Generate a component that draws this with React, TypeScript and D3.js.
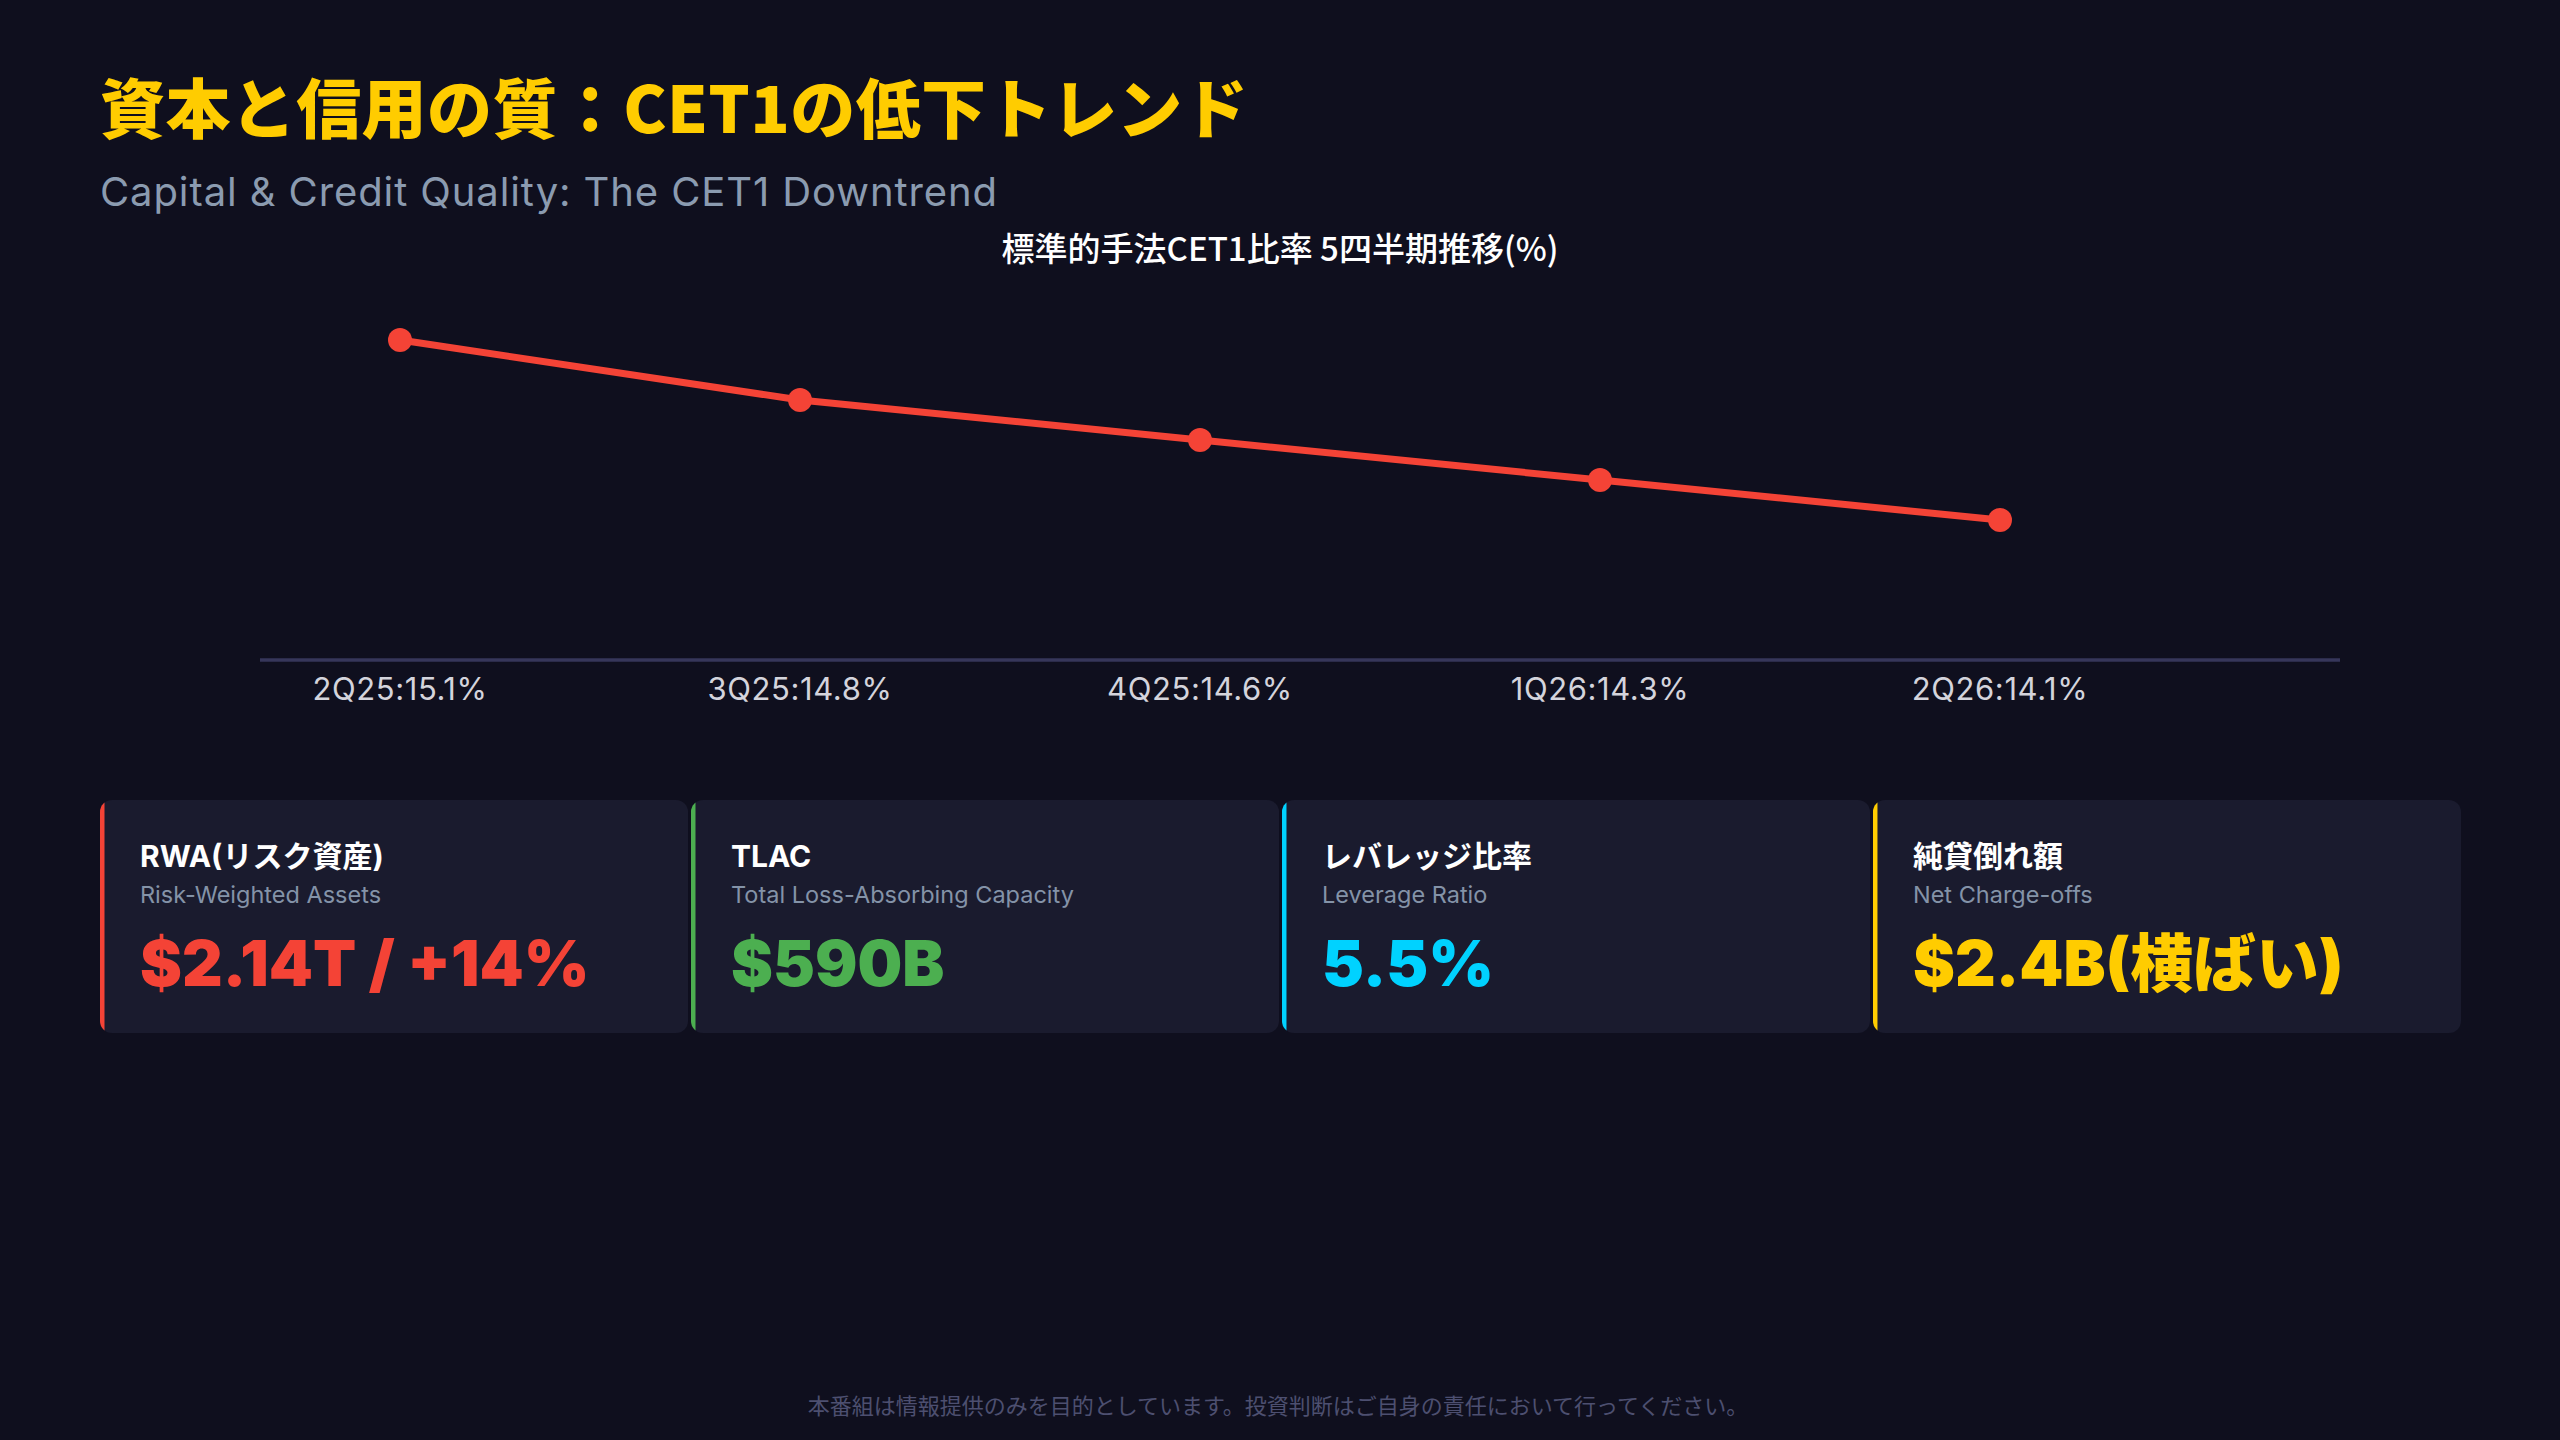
import React from "react";
import * as d3 from "d3";

const quarters = ["2Q25", "3Q25", "4Q25", "1Q26", "2Q26"];
const tickLabels = ["2Q25:15.1%", "3Q25:14.8%", "4Q25:14.6%", "1Q26:14.3%", "2Q26:14.1%"];
const cet1Values = [15.1, 14.8, 14.6, 14.4, 14.2];

const cardTitles = ["RWA(リスク資産)", "TLAC", "レバレッジ比率", "純貸倒れ額"];
const cardSubtitles = ["Risk-Weighted Assets", "Total Loss-Absorbing Capacity", "Leverage Ratio", "Net Charge-offs"];
const cardValues = ["$2.14T / +14%", "$590B", "5.5%", "$2.4B(横ばい)"];
const cardColors = ["#f44336", "#4caf50", "#00d2ff", "#ffcc00"];

const W = 2560;
const H = 1440;
const BG = "#0f0f1e";
const CARD_BG = "#1a1b2e";
const LATIN = "Inter, 'Noto Sans CJK JP', sans-serif";
const CJK = "'Noto Sans CJK JP', Inter, sans-serif";

export default function App() {
  const x = d3.scalePoint<string>().domain(quarters).range([200, 2200]).padding(0.5);
  const y = d3.scaleLinear().domain([13.5, 15.5]).range([660, 260]);
  const line = d3
    .line<number>()
    .x((_, i) => x(quarters[i]) as number)
    .y((d) => y(d));

  const cardX = d3.scaleBand<number>().domain([0, 1, 2, 3]).range([100, 2461]).paddingInner(0.005);
  const cardTop = 800;
  const cardH = 233;

  return (
    <svg
      width={W}
      height={H}
      viewBox={`0 0 ${W} ${H}`}
      style={{ position: "fixed", left: 0, top: 0, display: "block" }}
    >
      <rect x={0} y={0} width={W} height={H} fill={BG} />
      <text x={100} y={133} fill="#ffcc00" fontSize={65} fontWeight={900} fontFamily={CJK} letterSpacing={0.4}>
        資本と信用の質：CET1の低下トレンド
      </text>
      <text x={100} y={206} fill="#8b9bb0" fontSize={40} fontWeight={400} fontFamily={LATIN} letterSpacing={0.9}>
        Capital &amp; Credit Quality: The CET1 Downtrend
      </text>
      <text x={1280} y={261} fill="#ffffff" fontSize={33} fontWeight={500} fontFamily={CJK} textAnchor="middle">
        標準的手法CET1比率 5四半期推移(%)
      </text>

      <line x1={260} x2={2340} y1={660} y2={660} stroke="#36365a" strokeWidth={3.5} />
      {tickLabels.map((t, i) => (
        <text
          key={t}
          x={x(quarters[i])}
          y={700}
          fill="#d4d4dc"
          fontSize={31}
          fontFamily={LATIN}
          letterSpacing={0.6}
          textAnchor="middle"
        >
          {t}
        </text>
      ))}
      <path d={line(cet1Values) || ""} fill="none" stroke="#f44336" strokeWidth={7} strokeLinejoin="round" />
      {cet1Values.map((v, i) => (
        <circle key={i} cx={x(quarters[i])} cy={y(v)} r={12} fill="#f44336" />
      ))}

      <defs>
        {cardTitles.map((_, i) => (
          <clipPath id={`card-clip-${i}`} key={i}>
            <rect x={cardX(i)} y={cardTop} width={cardX.bandwidth()} height={cardH} rx={12} ry={12} />
          </clipPath>
        ))}
      </defs>
      {cardTitles.map((title, i) => {
        const cx = cardX(i) as number;
        return (
          <g key={title}>
            <rect x={cx} y={cardTop} width={cardX.bandwidth()} height={cardH} rx={12} ry={12} fill={CARD_BG} />
            <rect x={cx} y={cardTop} width={4.5} height={cardH} fill={cardColors[i]} clipPath={`url(#card-clip-${i})`} />
            <text x={cx + 40} y={867} fill="#ffffff" fontSize={30} fontWeight={700} fontFamily={LATIN}>
              {title}
            </text>
            <text x={cx + 40} y={903} fill="#8493a8" fontSize={23.5} fontWeight={400} fontFamily={LATIN}>
              {cardSubtitles[i]}
            </text>
            <text x={cx + 40} y={986} fill={cardColors[i]} fontSize={63} fontWeight={900} fontFamily={LATIN}>
              {cardValues[i]}
            </text>
          </g>
        );
      })}

      <text x={1278} y={1414} fill="#4d4f70" fontSize={22} fontFamily={CJK} textAnchor="middle">
        本番組は情報提供のみを目的としています。投資判断はご自身の責任において行ってください。
      </text>
    </svg>
  );
}
